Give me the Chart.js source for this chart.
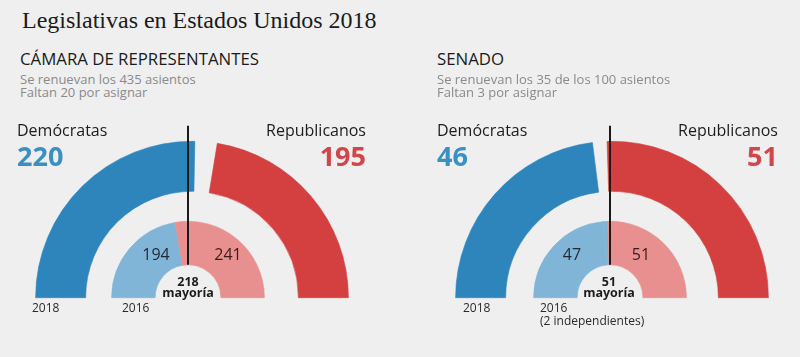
<!DOCTYPE html>
<html><head><meta charset="utf-8">
<script src="https://cdn.jsdelivr.net/npm/chart.js@4.4.0/dist/chart.umd.min.js"></script>
<style>
html,body{margin:0;padding:0;background:#efefef;}
#page{position:relative;width:800px;height:357px;overflow:hidden;background:#efefef;font-family:"Open Sans",sans-serif;}
.t{position:absolute;white-space:nowrap;line-height:1;}
canvas{position:absolute;}
</style></head><body><div id="page"></div>
<script>
// ---- data ----
const title = 'Legislativas en Estados Unidos 2018';
const chamberNames = ['CÁMARA DE REPRESENTANTES', 'SENADO'];
const chamberNotes = [
  ['Se renuevan los 435 asientos', 'Faltan 20 por asignar'],
  ['Se renuevan los 35 de los 100 asientos', 'Faltan 3 por asignar']
];
const partyNames = ['Demócratas', 'Republicanos'];
const cats2018 = ['Demócratas', 'Por asignar', 'Republicanos'];
const house2018 = [220, 20, 195];
const house2016Cats = ['Demócratas', 'Republicanos'];
const house2016 = [194, 241];
const senate2018 = [46, 3, 51];
const senate2016Cats = ['Demócratas', 'Independientes', 'Republicanos'];
const senate2016 = [47, 2, 51];
const majorities = [218, 51];
const yearLabels = ['2018', '2016'];
const senate2016Note = '(2 independientes)';
const majorityWord = 'mayoría';

// ---- styles ----
const C = {
  dem: '#2d85bc', rep: '#d3403f', demLight: '#80b5d8', repLight: '#e89090',
  demText: '#3a8fc3', repText: '#d0464a', gap: 'rgba(0,0,0,0)'
};
const page = document.getElementById('page');
function addText(txt, x, top, size, o = {}) {
  const d = document.createElement('div');
  d.className = 't';
  d.textContent = txt;
  d.style.top = top + 'px';
  d.style.fontSize = size + 'px';
  d.style.color = o.color || '#1c1c1c';
  if (o.weight) d.style.fontWeight = o.weight;
  if (o.family) d.style.fontFamily = o.family;
  if (o.align === 'right') { d.style.right = (800 - x) + 'px'; }
  else if (o.align === 'center') { d.style.left = x + 'px'; d.style.transform = 'translateX(-50%)'; }
  else d.style.left = x + 'px';
  page.appendChild(d);
  return d;
}

const W = 400, H = 220, T = 110;
function gauge(left, cx, baseY, R, cutout, labels, data, colors, withLine) {
  const cv = document.createElement('canvas');
  cv.width = W; cv.height = H;
  cv.style.left = left + 'px'; cv.style.top = T + 'px';
  cv.style.width = W + 'px'; cv.style.height = H + 'px';
  page.appendChild(cv);
  const lx = cx - left, by = baseY - T;
  const plugins = [];
  if (withLine) plugins.push({
    id: 'majLine',
    afterDraw(chart) {
      const arc = chart.getDatasetMeta(0).data[0];
      const ctx = chart.ctx;
      ctx.save();
      ctx.strokeStyle = '#1a1a1a';
      ctx.lineWidth = 2;
      ctx.beginPath();
      ctx.moveTo(arc.x, arc.y - 172);
      ctx.lineTo(arc.x, arc.y - arc.innerRadius);
      ctx.stroke();
      ctx.restore();
    }
  });
  new Chart(cv, {
    type: 'doughnut',
    data: { labels, datasets: [{ data, backgroundColor: colors, borderColor: colors, borderWidth: 0.6, hoverOffset: 0 }] },
    options: {
      responsive: false, animation: false, events: [],
      rotation: -90, circumference: 180, cutout: cutout,
      layout: { padding: { left: lx - R, right: W - (lx + R), top: by - R, bottom: H - by } },
      plugins: { legend: { display: false }, tooltip: { enabled: false } }
    },
    plugins
  });
}

// House
gauge(0, 192, 298, 157, '68%', cats2018, house2018, [C.dem, C.gap, C.rep], false);
gauge(0, 188, 298, 77, '43%', house2016Cats, house2016, [C.demLight, C.repLight], true);
// Senate
gauge(400, 612, 298, 157, '68%', cats2018, senate2018, [C.dem, C.gap, C.rep], false);
gauge(400, 610, 298, 77, '43%', senate2016Cats, senate2016, [C.demLight, C.demLight, C.repLight], true);

// ---- text ----
addText(title, 22, 8, 24, { family: '"Liberation Serif", serif', color: '#1a1a1a' });
const hx = [20, 437];
[0, 1].forEach(i => {
  addText(chamberNames[i], hx[i], 50.5, 16.8, { color: '#1a1a1a' });
  addText(chamberNotes[i][0], hx[i], 72.5, 13, { color: '#8a8a8a' });
  addText(chamberNotes[i][1], hx[i], 86, 13, { color: '#8a8a8a' });
});
const seats = [[house2018[0], house2018[2]], [senate2018[0], senate2018[2]]];
const lefts = [17, 437], rights = [366, 778];
[0, 1].forEach(i => {
  addText(partyNames[0], lefts[i], 122, 16);
  addText(partyNames[1], rights[i], 122, 16, { align: 'right' });
  addText(String(seats[i][0]), lefts[i], 142, 27, { weight: 700, color: C.demText });
  addText(String(seats[i][1]), rights[i], 142, 27, { weight: 700, color: C.repText, align: 'right' });
});
// inner values
addText(String(house2016[0]), 156, 246, 16, { align: 'center', color: '#1e2a36' });
addText(String(house2016[1]), 228, 246, 16, { align: 'center', color: '#3e1b1b' });
addText(String(senate2016[0]), 572, 246, 16, { align: 'center', color: '#1e2a36' });
addText(String(senate2016[2]), 641, 246, 16, { align: 'center', color: '#3e1b1b' });
// majority
const mx = [188, 609];
[0, 1].forEach(i => {
  addText(String(majorities[i]), mx[i], 276, 12.5, { align: 'center', weight: 700 });
  addText(majorityWord, mx[i], 286.5, 12.5, { align: 'center', weight: 700 });
});
// years
addText(yearLabels[0], 32, 302, 12, { color: '#2a2a2a' });
addText(yearLabels[1], 122, 302, 12, { color: '#2a2a2a' });
addText(yearLabels[0], 463, 302, 12, { color: '#2a2a2a' });
addText(yearLabels[1], 540, 302, 12, { color: '#2a2a2a' });
addText(senate2016Note, 540, 315, 12, { color: '#2a2a2a' });
</script></body></html>
